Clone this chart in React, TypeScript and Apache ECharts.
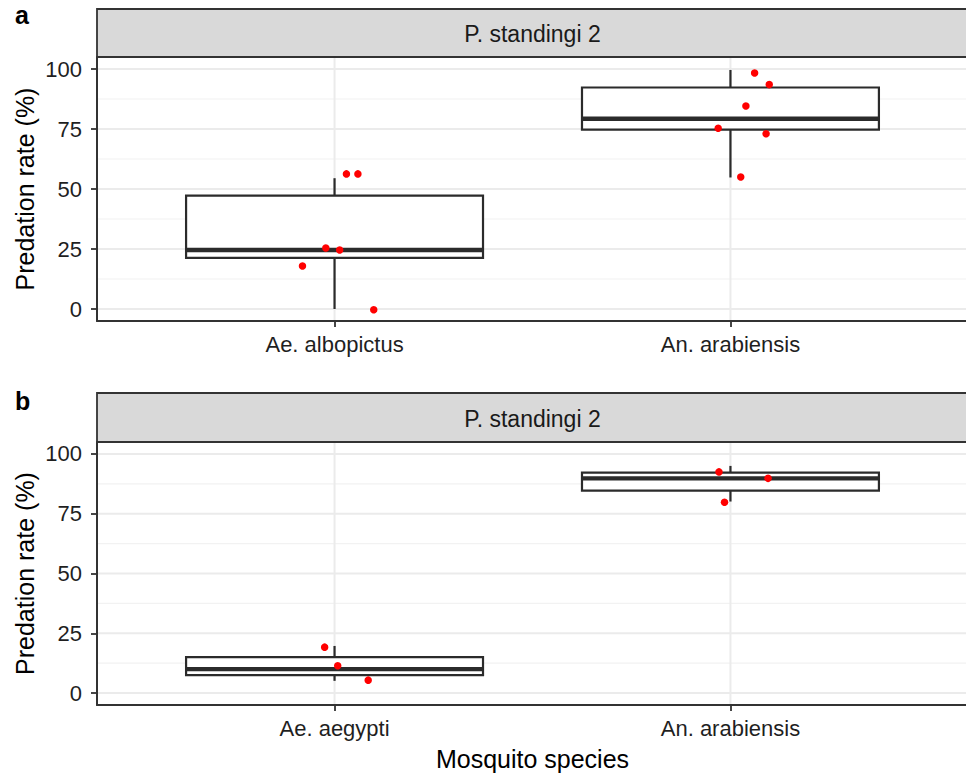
import React, { useEffect, useRef } from "react";
import * as echarts from "echarts";

// ---- data ----
const panelLabels = ["a", "b"];
const stripTitle = "P. standingi 2";
const categoriesA = ["Ae. albopictus", "An. arabiensis"];
const categoriesB = ["Ae. aegypti", "An. arabiensis"];
const categoryPositions = [1, 2];
// box statistics: [lower whisker, Q1, median, Q3, upper whisker]
const boxStatsA = [
  [0, 21.3, 24.6, 47.2, 54.5],
  [54.8, 74.7, 79.3, 92.3, 99.6],
];
const boxStatsB = [
  [5.1, 7.5, 10, 15, 19.7],
  [80.1, 84.7, 89.8, 92.2, 95],
];
// jittered observations (x position in category units, y value)
const jitterXA = [1.03, 1.059, 0.978, 1.013, 0.919, 1.099, 2.061, 2.098, 2.039, 1.969, 2.09, 2.026];
const valuesA = [56.3, 56.3, 25.4, 24.6, 17.9, -0.3, 98.3, 93.5, 84.6, 75.3, 73.0, 55.0];
const jitterXB = [0.975, 1.008, 1.085, 1.971, 2.095, 1.985];
const valuesB = [19.2, 11.4, 5.4, 92.5, 89.8, 79.8];
const yTicks = [0, 25, 50, 75, 100];
const yMinorTicks = [12.5, 37.5, 62.5, 87.5];
const yTitle = "Predation rate (%)";
const xTitle = "Mosquito species";

const FONT = "'Liberation Sans', Arial, Helvetica, sans-serif";
const AXIS_COLOR = "#333333";

const panels = [
  { cats: categoriesA, boxes: boxStatsA, px: jitterXA, py: valuesA, top: 57, height: 264, stripTop: 9, stripH: 48, labelY: 15 },
  { cats: categoriesB, boxes: boxStatsB, px: jitterXB, py: valuesB, top: 442, height: 263, stripTop: 393, stripH: 49, labelY: 401 },
];
const GRID_LEFT = 97;
const GRID_WIDTH = 871;

export default function App() {
  const ref = useRef<HTMLDivElement>(null);

  useEffect(() => {
    if (!ref.current) return;
    const chart = echarts.init(ref.current, null, { renderer: "svg" });

    const grids: any[] = [];
    const xAxes: any[] = [];
    const yAxes: any[] = [];
    const series: any[] = [];
    const graphics: any[] = [];

    panels.forEach((p, i) => {
      grids.push({ left: GRID_LEFT, top: p.top, width: GRID_WIDTH, height: p.height, outerBoundsMode: "none", containLabel: false });
      xAxes.push({
        gridIndex: i,
        type: "value",
        min: 0.4,
        max: 2.6,
        axisLine: { show: true, onZero: false, lineStyle: { color: AXIS_COLOR, width: 2 } },
        axisTick: { show: true, customValues: categoryPositions, length: 6, lineStyle: { color: AXIS_COLOR, width: 1.8 } },
        axisLabel: {
          show: true,
          customValues: categoryPositions,
          formatter: (v: number) => p.cats[Math.round(v) - 1] ?? "",
          fontSize: 22,
          fontFamily: FONT,
          color: "#1f1f1f",
          margin: 12,
        },
        splitLine: { show: false },
      });
      yAxes.push({
        gridIndex: i,
        type: "value",
        min: -5,
        max: 105,
        axisLine: { show: true, onZero: false, lineStyle: { color: AXIS_COLOR, width: 2 } },
        axisTick: { show: true, customValues: yTicks, length: 6, lineStyle: { color: AXIS_COLOR, width: 1.8 } },
        axisLabel: {
          show: true,
          customValues: yTicks,
          fontSize: 22,
          fontFamily: FONT,
          color: "#1f1f1f",
          margin: 15,
        },
        splitLine: { show: false },
      });

      // minor horizontal gridlines
      series.push({
        type: "custom",
        xAxisIndex: i,
        yAxisIndex: i,
        z: 0,
        silent: true,
        data: yMinorTicks.map((v) => [1, v]),
        renderItem: (params: any, api: any) => {
          const cs = params.coordSys;
          const y = api.coord([1, api.value(1)])[1];
          return { type: "line", shape: { x1: cs.x, y1: y, x2: cs.x + cs.width, y2: y }, style: { stroke: "#f2f2f2", lineWidth: 1.2 } };
        },
      });
      // major horizontal gridlines
      series.push({
        type: "custom",
        xAxisIndex: i,
        yAxisIndex: i,
        z: 0,
        silent: true,
        data: yTicks.map((v) => [1, v]),
        renderItem: (params: any, api: any) => {
          const cs = params.coordSys;
          const y = api.coord([1, api.value(1)])[1];
          return { type: "line", shape: { x1: cs.x, y1: y, x2: cs.x + cs.width, y2: y }, style: { stroke: "#ebebeb", lineWidth: 2 } };
        },
      });
      // vertical gridlines at categories
      series.push({
        type: "custom",
        xAxisIndex: i,
        yAxisIndex: i,
        z: 0,
        silent: true,
        data: categoryPositions.map((c) => [c, 50]),
        renderItem: (params: any, api: any) => {
          const cs = params.coordSys;
          const x = api.coord([api.value(0), 50])[0];
          return { type: "line", shape: { x1: x, y1: cs.y, x2: x, y2: cs.y + cs.height }, style: { stroke: "#ebebeb", lineWidth: 2 } };
        },
      });
      // boxplots
      series.push({
        type: "custom",
        xAxisIndex: i,
        yAxisIndex: i,
        z: 2,
        silent: true,
        data: p.boxes.map((b, k) => [categoryPositions[k], ...b]),
        renderItem: (params: any, api: any) => {
          const x = api.value(0);
          const hw = 0.375;
          const cx = api.coord([x, 0])[0];
          const xl = api.coord([x - hw, 0])[0];
          const xr = api.coord([x + hw, 0])[0];
          const yLo = api.coord([x, api.value(1)])[1];
          const yQ1 = api.coord([x, api.value(2)])[1];
          const yMed = api.coord([x, api.value(3)])[1];
          const yQ3 = api.coord([x, api.value(4)])[1];
          const yHi = api.coord([x, api.value(5)])[1];
          const st = { stroke: "#2b2b2b", lineWidth: 2.2 };
          return {
            type: "group",
            children: [
              { type: "line", shape: { x1: cx, y1: yHi, x2: cx, y2: yQ3 }, style: st },
              { type: "line", shape: { x1: cx, y1: yQ1, x2: cx, y2: yLo }, style: st },
              { type: "rect", shape: { x: xl, y: yQ3, width: xr - xl, height: yQ1 - yQ3 }, style: { fill: "#ffffff", stroke: "#2b2b2b", lineWidth: 2.2 } },
              { type: "line", shape: { x1: xl, y1: yMed, x2: xr, y2: yMed }, style: { stroke: "#2b2b2b", lineWidth: 4.4 } },
            ],
          };
        },
      });
      // jittered points
      series.push({
        type: "scatter",
        xAxisIndex: i,
        yAxisIndex: i,
        z: 3,
        symbol: "circle",
        symbolSize: 7.5,
        itemStyle: { color: "#ff0000", opacity: 1 },
        data: p.px.map((x, k) => [x, p.py[k]]),
      });

      // strip
      graphics.push({
        type: "rect",
        shape: { x: GRID_LEFT, y: p.stripTop, width: GRID_WIDTH, height: p.stripH },
        style: { fill: "#d9d9d9", stroke: AXIS_COLOR, lineWidth: 1.8 },
        z: 10,
      });
      graphics.push({
        type: "text",
        x: GRID_LEFT + GRID_WIDTH / 2,
        y: p.stripTop + p.stripH / 2 + 1,
        style: { text: stripTitle, fontSize: 23, fontFamily: FONT, fill: "#1a1a1a", align: "center", verticalAlign: "middle" },
        z: 11,
      });
      // panel tag
      graphics.push({
        type: "text",
        x: 15,
        y: p.labelY,
        style: { text: panelLabels[i], fontSize: 25, fontWeight: "bold", fontFamily: FONT, fill: "#000", align: "left", verticalAlign: "middle" },
      });
      // y axis title
      graphics.push({
        type: "text",
        x: 25,
        y: p.top + p.height / 2,
        rotation: Math.PI / 2,
        style: { text: yTitle, fontSize: 25, fontFamily: FONT, fill: "#000", align: "center", verticalAlign: "middle" },
      });
    });

    graphics.push({
      type: "text",
      x: GRID_LEFT + GRID_WIDTH / 2,
      y: 759,
      style: { text: xTitle, fontSize: 25, fontFamily: FONT, fill: "#000", align: "center", verticalAlign: "middle" },
    });

    chart.setOption({
      animation: false,
      backgroundColor: "#ffffff",
      grid: grids,
      xAxis: xAxes,
      yAxis: yAxes,
      series,
      graphic: graphics,
    });

    return () => chart.dispose();
  }, []);

  return <div ref={ref} style={{ position: "absolute", left: 0, top: 0, width: 966, height: 779 }} />;
}
